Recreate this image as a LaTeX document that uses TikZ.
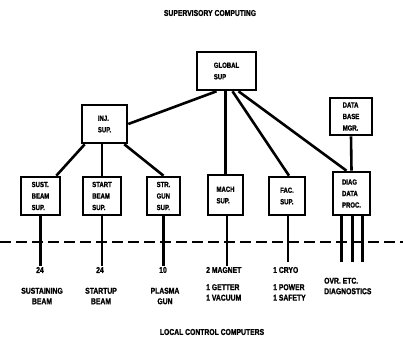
\documentclass[tikz,border=0pt]{standalone}
\usepackage{fontspec}
\newfontfamily\letterfont[FakeStretch=0.8,FakeBold=1.2]{Liberation Sans}
\usetikzlibrary{positioning}

\tikzset{
    supbox/.style={rectangle, draw, line width=2.6pt, align=left, inner sep=2pt,
        font=\letterfont\bfseries\fontsize{7.5}{11.5}\selectfont},
    link/.style={line width=2.6pt},
    bus/.style={line width=2.8pt, dash pattern=on 11pt off 5pt},
    caption/.style={font=\letterfont\bfseries\fontsize{8.5}{10.5}\selectfont, inner sep=1pt, align=left}
}

\begin{document}
\begin{tikzpicture}[x=1pt, y=1pt]
    \useasboundingbox (0,0) rectangle (403,340);

    	%-----Supervisors-----
        % Global Supervisor
        \node [supbox, minimum width=59pt, minimum height=38pt] (global) at (226.5,269) {%
            GLOBAL \\
            SUP
        };

        % Injector Supervisor
        \node [supbox, minimum width=45pt, minimum height=38pt] (inj) at (104.5,216) {%
            INJ. \\
            SUP.
        };

        % Data Base Manager
        \node [supbox, minimum width=42pt, minimum height=37pt] (dbase) at (351,223.5) {%
            DATA \\
            BASE \\
            MGR.
        };

        % Sustaining Beam Supervisor
        \node [supbox, minimum width=39pt, minimum height=38pt] (sust) at (40.5,144) {%
            SUST. \\
            BEAM \\
            SUP.
        };

        % Startup Beam Supervisor
        \node [supbox, minimum width=38pt, minimum height=38pt] (start) at (102,144) {%
            START \\
            BEAM \\
            SUP.
        };

        % Streaming Gun Supervisor
        \node [supbox, minimum width=33pt, minimum height=38pt] (strgun) at (163.5,144) {%
            STR. \\
            GUN \\
            SUP.
        };

        % Machine Supervisor
        \node [supbox, minimum width=35pt, minimum height=40pt] (mach) at (225.5,145) {%
            MACH \\
            SUP.
        };

        % Facility Supervisor
        \node [supbox, minimum width=36pt, minimum height=38pt] (fac) at (287,144) {%
            FAC. \\
            SUP.
        };

        % Diagnostic Data Processor
        \node [supbox, minimum width=37pt, minimum height=43pt] (diag) at (351.5,146.5) {%
            DIAG \\
            DATA \\
            PROC.
        };

        %-----Links-----
        \draw [link] ([xshift=-10pt]global.south) -- (inj.east);
        \draw [link] ([xshift=4pt]inj.south west) -- ([xshift=-5pt]sust.north east);
        \draw [link] (start.north |- inj.south) -- (start.north);
        \draw [link] ([xshift=-4pt]inj.south east) -- (strgun.north);
        \draw [link] (mach.north |- global.south) -- (mach.north);
        \draw [link] ([xshift=6pt]global.south) -- ([xshift=2pt]fac.north);
        \draw [link] ([xshift=12pt]global.south) -- ([xshift=-5pt]diag.north);
        \draw [link] (dbase.south) -- (diag.north);

        %-----Local control computers-----
        \node [caption] (sust-n) at (40,70) {24};
        \node [caption, align=center] (sust-t) at (42,44) {SUSTAINING \\ BEAM};
        \node [caption] (start-n) at (100,70) {24};
        \node [caption, align=center] (start-t) at (101,44) {STARTUP \\ BEAM};
        \node [caption] (strgun-n) at (163,70) {10};
        \node [caption, align=center] (strgun-t) at (165,44) {PLASMA \\ GUN};
        \node [caption, anchor=west] (mach-a) at (205,70) {2 MAGNET};
        \node [caption, anchor=north west] (mach-b) at (205,57) {1 GETTER \\ 1 VACUUM};
        \node [caption, anchor=west] (fac-a) at (272,70) {1 CRYO};
        \node [caption, anchor=north west] (fac-b) at (272,57) {1 POWER \\ 1 SAFETY};
        \node [caption, anchor=west] (diag-t) at (323,54) {OVR. ETC. \\ DIAGNOSTICS};
        \coordinate (diag-end) at (351.5,78);

        % Bus line
        \coordinate (bus-w) at (0,98);
        \coordinate (bus-e) at (403,98);
        \draw [bus] (bus-w) -- (bus-e);

        \draw [link] (sust.south) -- (sust.south |- sust-n.north);
        \draw [link] (start.south) -- (start.south |- start-n.north);
        \draw [link] (strgun.south) -- (strgun.south |- strgun-n.north);
        \draw [link] ([xshift=1.5pt]mach.south) -- ([xshift=1.5pt]mach.south |- mach-a.north);
        \draw [link] ([xshift=1pt]fac.south) -- ([xshift=1pt]fac.south |- diag-end);
        \foreach \dx in {-10,1,11}
            \draw [link] ([xshift=\dx pt]diag.south) -- ([xshift=\dx pt]diag-end);

        % Titles
        \node [caption] (top) at (210,327) {SUPERVISORY COMPUTING};
        \node [caption] (bottom) at (212,8) {LOCAL CONTROL COMPUTERS};

    \end{tikzpicture}
\end{document}
